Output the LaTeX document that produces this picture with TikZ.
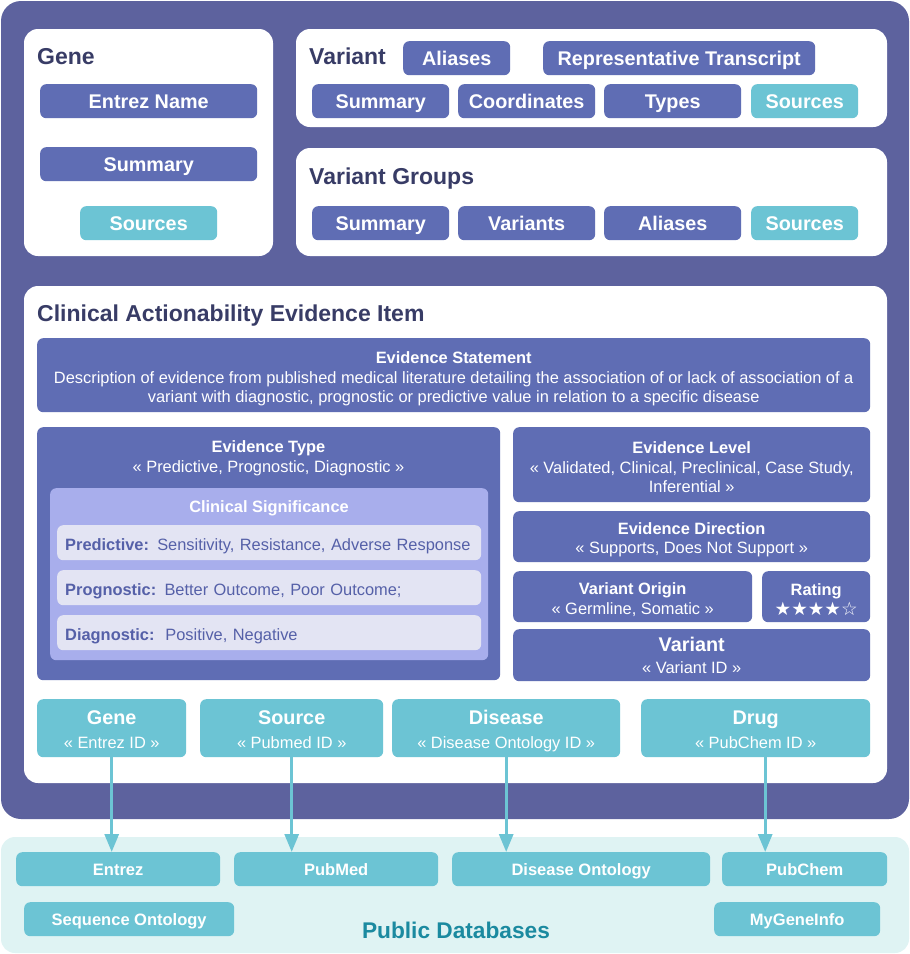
\documentclass[tikz,border=0pt]{standalone}
\usepackage{fontspec}
\setmainfont{Liberation Sans}
\newfontfamily\starfont{DejaVu Sans}
\usetikzlibrary{arrows.meta}
\definecolor{cframe}{HTML}{5D629E}
\definecolor{cblue}{HTML}{5F6DB4}
\definecolor{clight}{HTML}{A8AEEC}
\definecolor{citem}{HTML}{E3E4F3}
\definecolor{cteal}{HTML}{6CC4D4}
\definecolor{cdb}{HTML}{DFF3F3}
\definecolor{cnavy}{HTML}{383C66}
\definecolor{cdbtext}{HTML}{1B8AA0}
\definecolor{citemtext}{HTML}{5560A8}
\newcommand{\fs}[2]{\fontsize{#1}{#2}\selectfont}
\newcommand{\up}[1]{\rule{0pt}{#1}}
\newcommand{\dn}{\rule[-4pt]{0pt}{4pt}}
\tikzset{
  panel/.style={fill=white, rounded corners=14pt},
  bx/.style={rounded corners=6pt, fill=cblue, text=white, inner sep=0pt,
    anchor=north west, font=\fs{19.8}{23}\bfseries, align=center},
  one/.style={text height=14.2pt, text depth=0pt},
  tl/.style={fill=cteal},
  bxm/.style={font=\fs{16.4}{19.8}},
  dbx/.style={fill=cteal, font=\fs{16.5}{19}\bfseries, text height=11.8pt, text depth=0pt},
  ttl/.style={anchor=west, text=cnavy, font=\fs{23}{27}\bfseries, inner sep=0pt,
    text height=16.5pt, text depth=0pt},
  item/.style={rounded corners=6pt, fill=citem, text=citemtext, inner xsep=8pt, inner ysep=0pt,
    anchor=north west, font=\fs{16.4}{19}, align=left, text height=15.7pt, text depth=0pt},
  lbl/.style={text=white, inner sep=0pt, align=center, font=\fs{16.4}{20}},
  arr/.style={draw=cteal, line width=3pt, -{Triangle[length=18pt,width=14pt]}},
}
\newcommand{\bx}[7]{\node[bx,#6,minimum width={#4-#2},minimum height={#5-#3}] (#1) at (#2,#3) {#7};}
\begin{document}
\begin{tikzpicture}[x=1pt,y=-1pt]
\useasboundingbox (0,0) rectangle (910,954);
% frames
\fill[cframe, rounded corners=20pt] (1,1) rectangle (909,819);
\fill[cdb, rounded corners=14pt] (1,837) rectangle (909,953);
\fill[panel] (24,29) rectangle (273,256);
\fill[panel] (296,29) rectangle (887,127);
\fill[panel] (296,148) rectangle (887,256);
\fill[panel] (24,286) rectangle (887,783);
% titles
\node[ttl] (tgene) at (37,56) {Gene};
\node[ttl] (tvar) at (309,56) {Variant};
\node[ttl] (tvg) at (309,176) {Variant Groups};
\node[ttl] (tcae) at (37,313) {Clinical Actionability Evidence Item};
% gene panel
\bx{gname}{40}{84}{257}{118}{one}{Entrez Name}
\bx{gsum}{40}{147}{257}{181}{one}{Summary}
\bx{gsrc}{80}{206}{217}{240}{one,tl}{Sources}
% variant panel
\bx{valias}{403}{41}{510}{75}{one}{Aliases}
\bx{vrt}{543}{41}{815}{75}{one}{Representative Transcript}
\bx{vsum}{312}{84}{449}{118}{one}{Summary}
\bx{vcoord}{458}{84}{595}{118}{one}{Coordinates}
\bx{vtypes}{604}{84}{741}{118}{one}{Types}
\bx{vsrc}{751}{84}{858}{118}{one,tl}{Sources}
% variant groups
\bx{gsum2}{312}{206}{449}{240}{one}{Summary}
\bx{gvars}{458}{206}{595}{240}{one}{Variants}
\bx{galias}{604}{206}{741}{240}{one}{Aliases}
\bx{gsrc2}{751}{206}{858}{240}{one,tl}{Sources}
% evidence statement
\bx{estmt}{37}{338}{870}{412}{font=\fs{16.4}{19.5}}{\up{19pt}\textbf{\fs{16.4}{21}Evidence Statement}\\Description of evidence from published medical literature detailing the association of or lack of association of a\\variant with diagnostic, prognostic or predictive value in relation to a specific disease}
% evidence type
\bx{etype}{37}{427}{500}{680}{}{}
\node[lbl] (etypel) at (268.5,458) {\textbf{Evidence Type}\\« Predictive, Prognostic, Diagnostic »};
\bx{csig}{50}{488}{488}{660}{fill=clight}{}
\node[lbl, font=\fs{16.4}{20}\bfseries, text height=11.8pt, text depth=0pt] (csigl) at (269,506.5) {Clinical Significance};
\node[item, minimum width=424, minimum height=35, text width=408] (ipred) at (57,525) {\textbf{Predictive:} Sensitivity, Resistance, Adverse Response};
\node[item, minimum width=424, minimum height=35, text width=408] (iprog) at (57,570) {\textbf{Prognostic:} Better Outcome, Poor Outcome;};
\node[item, minimum width=424, minimum height=35, text width=408] (idiag) at (57,615) {\textbf{Diagnostic:}\ \ Positive, Negative};
% right column
\bx{elevel}{513}{427}{870}{502}{bxm}{\up{17pt}\textbf{Evidence Level}\\« Validated, Clinical, Preclinical, Case Study,\\Inferential »}
\bx{edir}{513}{511}{870}{562}{bxm}{\up{18pt}\textbf{Evidence Direction}\\« Supports, Does Not Support »}
\bx{vorig}{513}{571}{752}{622}{bxm}{\up{18pt}\textbf{Variant Origin}\\« Germline, Somatic »}
\bx{rating}{762}{571}{870}{622}{bxm}{\up{18pt}\textbf{Rating}\\{\starfont\fs{18.5}{18}★★★★☆}}
\bx{evar}{513}{629}{870}{681}{font=\fs{16.4}{22}}{{\bfseries\fs{19.8}{22}Variant}\\« Variant ID »}
% bottom id boxes
\bx{bgene}{37}{699}{186}{757}{tl,font=\fs{16.4}{24}}{\up{21pt}{\bfseries\fs{19.8}{24}Gene}\\« Entrez ID »\dn}
\bx{bsrc}{200}{699}{383}{757}{tl,font=\fs{16.4}{24}}{\up{21pt}{\bfseries\fs{19.8}{24}Source}\\« Pubmed ID »\dn}
\bx{bdis}{392}{699}{620}{757}{tl,font=\fs{16.4}{24}}{\up{21pt}{\bfseries\fs{19.8}{24}Disease}\\« Disease Ontology ID »\dn}
\bx{bdrug}{641}{699}{870}{757}{tl,font=\fs{16.4}{24}}{\up{21pt}{\bfseries\fs{19.8}{24}Drug}\\« PubChem ID »\dn}
% public databases
\bx{dentrez}{16}{852}{220}{886}{dbx}{Entrez}
\bx{dpubmed}{234}{852}{438}{886}{dbx}{PubMed}
\bx{ddo}{452}{852}{710}{886}{dbx}{Disease Ontology}
\bx{dpubchem}{722}{852}{887}{886}{dbx}{PubChem}
\bx{dso}{24}{902}{234}{936}{dbx}{Sequence Ontology}
\bx{dmgi}{714}{902}{880}{936}{dbx}{MyGeneInfo}
\node[text=cdbtext, font=\fs{22.7}{26}\bfseries, inner sep=0pt, text height=16.3pt, text depth=0pt] (tpdb) at (456,930) {Public Databases};
% arrows
\draw[arr] (bgene.south) -- (bgene.south |- dentrez.north);
\draw[arr] (bsrc.south) -- (bsrc.south |- dpubmed.north);
\draw[arr] (bdis.south) -- (bdis.south |- ddo.north);
\draw[arr] ([xshift=9.5pt]bdrug.south) -- ([xshift=9.5pt]bdrug.south |- dpubchem.north);
\end{tikzpicture}
\end{document}
